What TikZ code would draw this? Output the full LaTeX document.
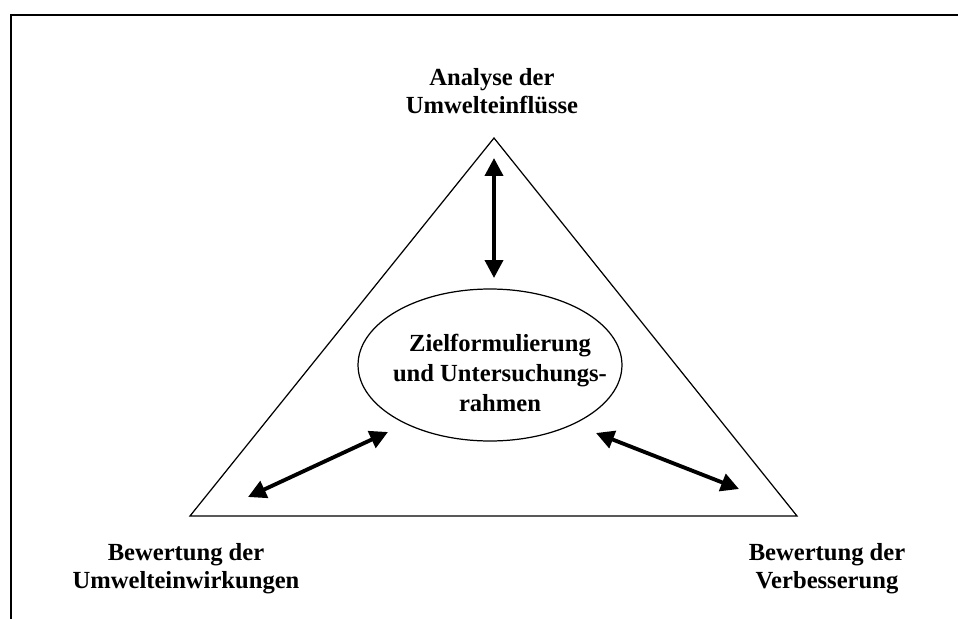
\documentclass[tikz,border=0pt]{standalone}
\usepackage{fontspec}
\setmainfont{Liberation Serif}
\usetikzlibrary{arrows.meta,shapes.geometric}
\begin{document}
\begin{tikzpicture}[x=0.02cm,y=-0.02cm,
  frameline/.style={line width=1.2pt},
  edgeline/.style={line width=0.7pt},
  lbl/.style={font=\fontsize{14}{15.9}\selectfont\bfseries, align=center, inner sep=0pt},
  centertext/.style={font=\fontsize{14}{17}\selectfont\bfseries, align=center, inner sep=0pt},
  dblarrow/.style={line width=2.2pt,
    {Triangle[length=0.36cm,width=0.36cm]}-{Triangle[length=0.36cm,width=0.36cm]}},
]
\useasboundingbox (0,0) rectangle (958,619);

% page frame (top and left edges)
\draw[frameline] (11,619) -- (11,15) -- (958,15);

% triangle
\coordinate (apex) at (494,138);
\coordinate (bl) at (190,516);
\coordinate (br) at (797,516);
\draw[edgeline] (apex) -- (bl) -- (br) -- cycle;

% central ellipse
\node[ellipse, draw, edgeline, minimum width=5.28cm, minimum height=3.04cm, inner sep=0pt]
  (goal) at (490,365) {};
\node[centertext] (goaltext) at (500,373) {Zielformulierung\\und Untersuchungs-\\rahmen};

% corner labels
\node[lbl] (analyse) at (492,91) {Analyse der\\Umwelteinflüsse};
\node[lbl] (wirkung) at (186,569) {Bewertung der\\Umwelteinwirkungen};
\node[lbl] (verbess) at (827,569) {Bewertung der\\Verbesserung};

% double arrows
\coordinate (a1) at (494,158);
\coordinate (a2) at (494,278);
\coordinate (b1) at (248,497);
\coordinate (b2) at (388,432);
\coordinate (c1) at (596,433);
\coordinate (c2) at (739,489);
\draw[dblarrow] (a1) -- (a2);
\draw[dblarrow] (b1) -- (b2);
\draw[dblarrow] (c1) -- (c2);
\end{tikzpicture}
\end{document}
